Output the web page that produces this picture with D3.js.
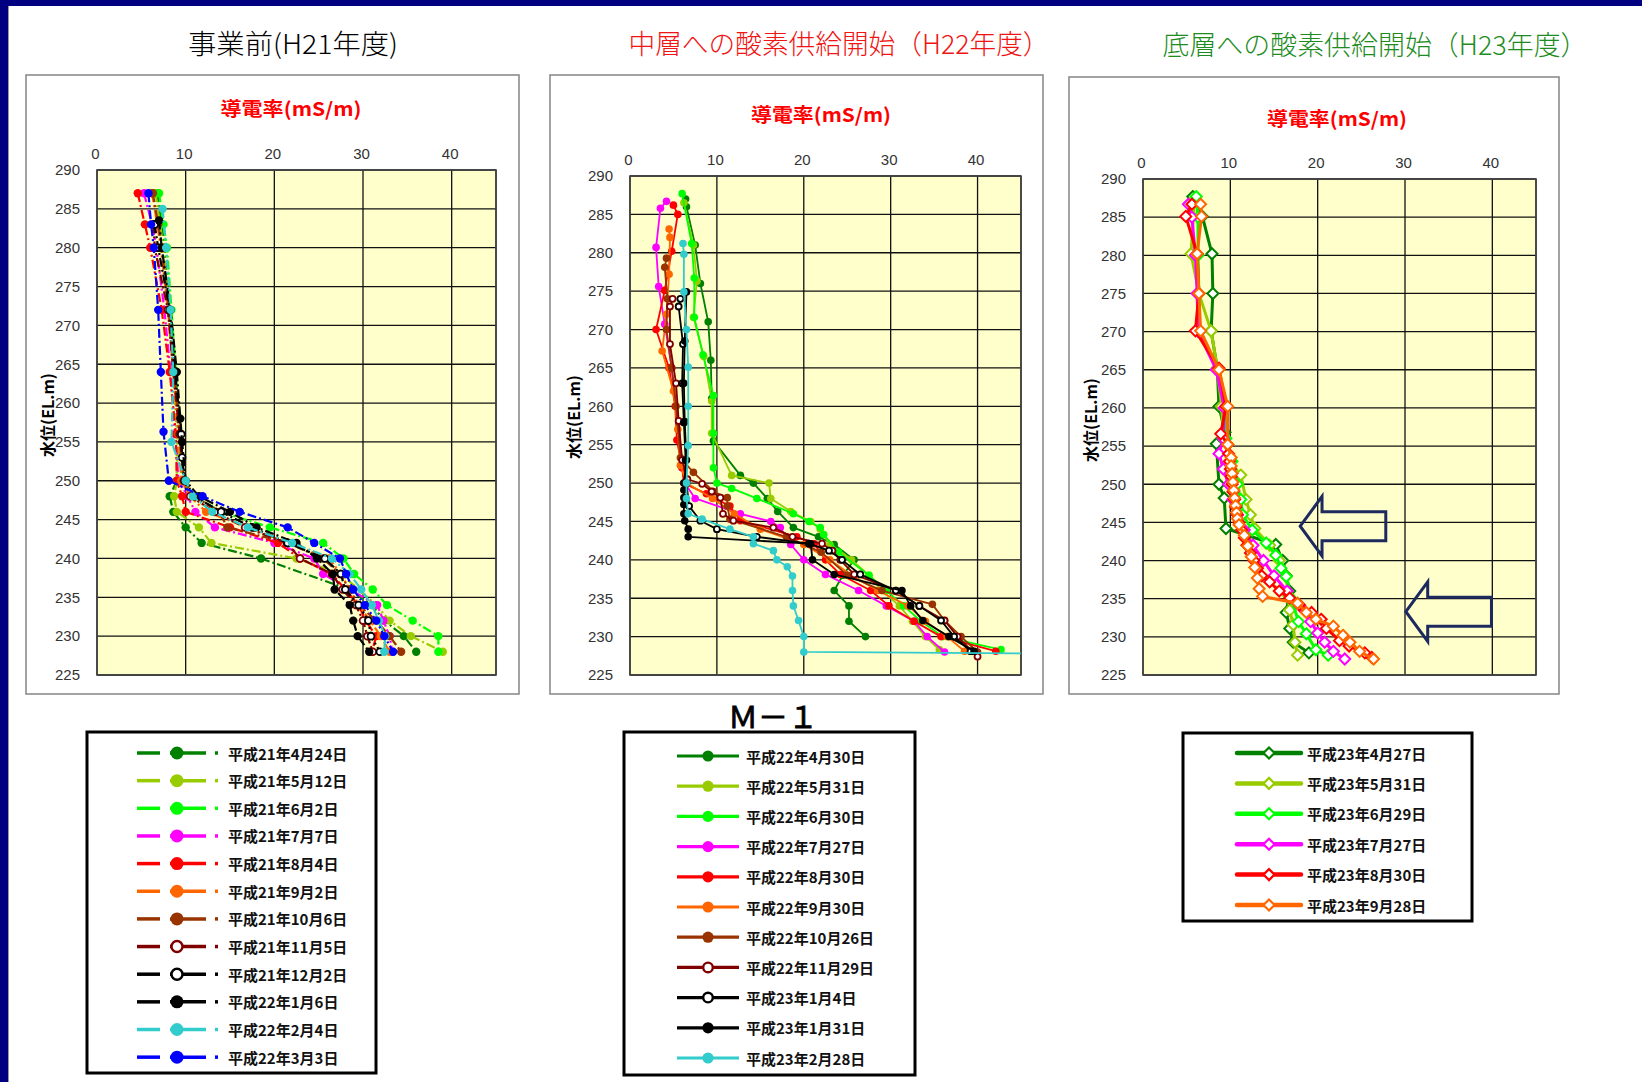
<!DOCTYPE html>
<html><head><meta charset="utf-8">
<script src="https://cdn.jsdelivr.net/npm/d3@7"></script>
<style>
html,body{margin:0;padding:0;background:#fff;}
svg{display:block;}
text{font-family:"Noto Sans CJK JP","Noto Sans",sans-serif;}
.num{font-family:"Liberation Sans",Arial,sans-serif;}
</style></head><body>
<svg id="c" width="1642" height="1082"></svg>
<script>
// ---------------- DATA ----------------
const xTicks = [0, 10, 20, 30, 40];
const yTicks = [225, 230, 235, 240, 245, 250, 255, 260, 265, 270, 275, 280, 285, 290];
const xDomain = [0, 45];
const yDomain = [225, 290];
const panelTitles = ["事業前(H21年度)", "中層への酸素供給開始（H22年度）", "底層への酸素供給開始（H23年度）"];
const chartTitle = "導電率(mS/m)";
const yAxisTitle = "水位(EL.m)";
const stationLabel = "Ｍ－１";

// Panel 1 (H21) : [elevation, conductivity]
const h21_0424 = [[287,6.8],[283,7.3],[280,7.6],[272,8.2],[264,8.8],[256,9.1],[250,9.0],[248,8.2],[246,8.6],[244,10.0],[242,11.8],[240,18.5],[236,28.5],[234,31.0],[232,32.4],[230,34.6],[228,36.0]];
const h21_0512 = [[287,6.6],[283,7.1],[280,7.5],[272,8.1],[264,8.6],[256,9.0],[250,9.0],[248,8.7],[246,9.0],[244,11.5],[242,12.9],[240,22.5],[238,27.5],[234,31.5],[232,33.0],[230,35.4],[228,39.0]];
const h21_0602 = [[287,7.0],[283,7.5],[280,7.9],[272,8.4],[264,8.9],[256,9.3],[250,9.6],[248,11.0],[246,14.0],[244,19.5],[242,25.5],[240,27.8],[238,29.0],[236,31.1],[234,32.7],[232,35.6],[230,38.5],[228,38.5]];
const h21_0707 = [[287,5.3],[283,6.2],[280,6.7],[272,7.6],[264,8.3],[256,8.8],[250,9.2],[248,10.2],[246,11.1],[244,13.3],[242,20.0],[240,24.5],[238,25.5],[236,28.5],[234,31.6],[232,32.3],[230,33.0],[228,33.3]];
const h21_0804 = [[287,4.6],[283,5.4],[280,6.0],[272,7.3],[264,8.2],[256,8.9],[250,9.0],[248,9.6],[246,10.0],[244,15.0],[242,20.4],[240,22.9],[238,26.5],[236,28.0],[234,29.5],[232,30.3],[230,31.5],[228,31.0]];
const h21_0902 = [[287,6.2],[283,6.8],[280,7.2],[272,8.0],[264,8.6],[256,9.2],[250,9.5],[248,10.5],[246,12.3],[244,17.0],[242,21.5],[240,26.2],[238,27.5],[236,28.5],[234,29.5],[232,30.8],[230,32.0],[228,33.0]];
const h21_1006 = [[287,6.3],[283,6.9],[280,7.3],[272,8.1],[264,8.7],[256,9.4],[250,9.8],[248,11.0],[246,13.8],[244,14.7],[242,21.5],[240,25.5],[238,27.4],[236,28.5],[234,29.5],[232,31.5],[230,33.0],[228,34.3]];
const h21_1105 = [[283,6.4],[280,6.5],[272,8.0],[264,8.6],[256,9.3],[250,9.8],[248,10.5],[246,13.3],[244,16.7],[242,21.4],[240,22.9],[238,26.5],[236,27.7],[234,29.2],[232,30.0],[230,30.5],[228,31.1]];
const h21_1202 = [[283,6.5],[280,6.9],[272,8.2],[264,8.8],[256,9.5],[253,9.6],[250,9.9],[248,11.0],[246,14.0],[244,17.5],[242,21.5],[240,25.7],[238,27.5],[236,28.0],[234,29.5],[232,30.6],[230,30.9],[228,31.9]];
const h22_0106 = [[283.5,7.0],[280,7.3],[272,8.3],[264,9.0],[258,9.4],[255,9.6],[250,10.0],[248,11.5],[246,15.0],[244,18.0],[242,22.5],[240,24.8],[238,26.6],[236,26.8],[234,28.5],[232,28.9],[230,29.4],[228,30.7]];
const h22_0204 = [[285,7.4],[280,7.8],[272,8.3],[264,8.6],[255,8.4],[250,10.0],[248,10.8],[246,13.0],[244,17.0],[242,22.0],[240,26.5],[238,28.5],[236,29.8],[234,31.0],[232,31.8],[230,32.5],[228,32.4]];
const h22_0303 = [[287,5.8],[283,6.1],[280,6.4],[272,6.9],[264,7.2],[256.3,7.5],[250,8.1],[248,11.9],[246,16.1],[244,21.5],[242,24.5],[240,27.4],[238,28.1],[236,28.9],[234,30.2],[232,31.5],[230,32.4],[228,33.4]];

// Panel 2 (H22)
const h22_0430 = [[287,6.4],[286,6.5],[281,7.5],[276,8.1],[271,9.0],[266,9.3],[261,9.4],[255.5,9.6],[251,12.7],[250,14.2],[248,15.8],[246.3,17.0],[244.2,18.8],[243,21.7],[242,23.5],[240,25.8],[238,24.5],[236,23.5],[234,25.2],[232,25.2],[230,27.1]];
const h22_0531 = [[286.5,6.2],[281,7.3],[276.3,7.7],[271.6,7.3],[266.5,8.5],[260.7,9.4],[256.5,9.4],[251,11.7],[250,16.0],[248,16.2],[246.3,18.5],[245,20.8],[244,21.9],[242,23.0],[240,25.5],[238,27.5],[236,29.0],[234,31.0],[232,32.5],[230,34.0],[228.3,35.6]];
const h22_0630 = [[287.7,6.0],[281.2,7.1],[276.7,7.4],[271.6,7.4],[266.7,8.4],[261.4,9.6],[256.5,9.6],[252,9.6],[250,10.0],[249.3,11.7],[248,14.6],[246,18.8],[245,20.6],[244.2,21.9],[243.3,22.3],[241,24.0],[238,27.5],[236,29.5],[234,31.5],[232,33.5],[230,36.0],[228.3,42.7]];
const h22_0727 = [[286.7,4.2],[285.8,3.5],[280.7,3.0],[275.6,3.3],[270.7,4.0],[265,4.8],[258,5.6],[252,6.0],[250,6.3],[248,7.5],[246,12.7],[245,16.2],[244.2,17.3],[242,18.5],[240,20.0],[238.1,22.5],[236,26.3],[234,29.5],[232,32.7],[230,34.2],[228,36.2]];
const h22_0830 = [[286.2,5.0],[285,5.5],[280.2,4.8],[275.1,4.0],[270,3.0],[265,4.5],[260,5.2],[255.6,5.4],[252,6.0],[250,6.2],[248.6,8.8],[247,11.5],[245.1,12.7],[243,19.2],[242.1,21.2],[240,22.5],[238.1,24.2],[236,27.7],[234,29.8],[232,32.7],[230,35.8],[228.1,42.1]];
const h22_0930 = [[283.1,4.5],[282,4.6],[277.2,4.5],[272,4.2],[267.2,3.7],[262,5.0],[257,5.5],[252.3,5.8],[250,6.5],[248,9.5],[246,12.0],[244,15.0],[242,20.0],[240,23.0],[238,25.5],[236,28.5],[234,32.0],[232,34.0],[230,36.5],[228.1,38.5]];
const h22_1026 = [[279.3,4.2],[278.1,4.0],[274,4.3],[270,4.2],[265,4.8],[260,5.3],[253.3,5.8],[251.4,7.3],[248.9,9.6],[248.1,11.2],[247,11.2],[245.3,11.5],[243,18.0],[241,22.0],[238,25.0],[236,29.0],[234.2,34.8],[232.1,36.2],[230,38.1],[228,40.0]];
const h22_1129 = [[274,4.9],[273,4.6],[268.1,4.6],[263,5.3],[258.1,5.6],[253,6.0],[250.5,6.6],[249.9,8.3],[248.9,9.4],[248.1,10.4],[246,10.7],[245.1,11.9],[244.2,16.5],[243,18.7],[242.1,22.1],[241.2,23.3],[240,24.2],[238.1,25.8],[236,30.6],[234,33.3],[232.1,36.2],[230,37.7],[227.4,40.0]];
const h23_0104 = [[274,5.8],[273,5.6],[268.1,6.1],[263,6.0],[257.9,6.2],[253,6.4],[250,6.5],[247,6.8],[245.1,8.1],[244,10.0],[243,14.6],[242.1,20.6],[241.2,22.9],[240,24.4],[238.1,26.5],[236,30.6],[234,33.3],[232.1,35.8],[230,37.3],[228.1,39.2]];
const h23_0131 = [[274.9,6.5],[268.5,6.3],[263,6.2],[258,6.3],[253,6.5],[250,6.2],[249.1,6.2],[248.1,6.2],[247.2,6.2],[246,6.2],[245.1,6.3],[244,6.7],[243,6.7],[242.1,20.8],[240,21.0],[238.1,23.5],[236,31.3],[234,32.3],[232.1,33.7],[230,36.7],[228.1,39.6]];
const h23_0228 = [[281.2,6.1],[279.8,6.2],[274.9,6.2],[270,6.5],[265.1,6.7],[260,6.7],[254.9,6.7],[250,6.5],[248,6.5],[246,6.7],[245.3,8.3],[244,11.5],[243,14.2],[242.1,14.2],[241.2,16.5],[240,16.9],[239.1,18.1],[237.9,18.7],[236,18.7],[234,18.8],[232.1,19.4],[230,20.0],[228,20.0],[227.8,48.0]];

// Panel 3 (H23)
const h23_0427 = [[287.7,5.7],[285.1,6.8],[280.2,7.9],[275,8.0],[270.1,7.8],[265.2,8.5],[260.2,8.7],[256.8,9.4],[255.3,8.4],[250,8.7],[248.2,9.3],[244.2,9.5],[242.1,15.2],[240,16.0],[238,16.4],[236,16.8],[233.2,16.4],[231.1,16.8],[229.3,17.2],[227.9,19.0]];
const h23_0531 = [[287.4,5.9],[280.2,5.5],[275,6.4],[270.1,7.8],[265.2,8.5],[260.2,9.0],[256,9.2],[253,10.0],[251.2,11.2],[248,11.8],[246,12.3],[244.2,12.8],[242,14.5],[240,15.6],[237.9,16.4],[235.5,16.6],[233.5,16.8],[231.6,17.2],[229.3,17.4],[227.6,17.7]];
const h23_0629 = [[287.7,6.1],[285,6.3],[280,6.3],[275,6.4],[270,6.5],[265,8.5],[260,9.4],[256,9.5],[253,10.2],[250,10.8],[248,11.2],[246,11.4],[244,12.5],[242.3,14.1],[240.7,15.2],[239,15.8],[237.9,16.4],[235,17.0],[232,17.8],[230.4,18.7],[228.3,19.8],[227.6,21.2]];
const h23_0727 = [[286.7,5.2],[285,5.6],[280,6.0],[275,6.2],[270,6.3],[265,8.4],[260,9.3],[256,9.2],[254,8.7],[252,9.2],[250,9.8],[248,10.3],[246,10.8],[244,11.6],[242,12.6],[240,13.8],[238,15.0],[236,16.5],[234,18.0],[232,19.2],[230.5,20.0],[229.3,20.8],[228.1,21.8],[227.1,23.1]];
const h23_0830 = [[286.7,5.6],[285.1,4.9],[280.2,6.2],[275,6.4],[270.1,6.0],[265.2,8.7],[260.2,9.5],[256.6,8.9],[255.2,9.7],[254,9.8],[253,9.9],[252,10.0],[251,10.1],[250,10.2],[249,10.3],[248,10.5],[247,10.6],[246,10.8],[245,11.0],[244,11.3],[243,11.6],[242,11.9],[241,12.3],[240,12.7],[239,13.1],[238,13.6],[237.2,14.5],[236,15.6],[235.1,16.8],[234.2,17.9],[233.2,19.3],[232.3,20.4],[231.1,21.0],[229.5,22.5],[228.8,23.6],[227.9,25.4],[227.3,26.2]];
const h23_0928 = [[286.7,6.6],[285.1,6.7],[280.2,6.2],[275,6.4],[270.1,6.6],[265,8.7],[260.2,9.7],[255.2,9.7],[253.5,10.1],[252.4,10.1],[251.4,10.2],[250.3,10.3],[249.2,10.4],[248.2,10.5],[247.2,10.6],[246.3,10.7],[245.5,10.8],[244.7,11.0],[243.3,11.6],[241.9,12.0],[240.5,12.4],[239.1,12.8],[237.7,13.1],[236.3,13.3],[235.3,13.7],[234.4,17.7],[233.2,18.7],[232.3,19.8],[231.4,21.8],[230.2,22.9],[229.3,23.7],[228.1,24.8],[227.1,26.4]];

const p1Series = [h21_0424,h21_0512,h21_0602,h21_0707,h21_0804,h21_0902,h21_1006,h21_1105,h21_1202,h22_0106,h22_0204,h22_0303];
const p2Series = [h22_0430,h22_0531,h22_0630,h22_0727,h22_0830,h22_0930,h22_1026,h22_1129,h23_0104,h23_0131,h23_0228];
const p3Series = [h23_0427,h23_0531,h23_0629,h23_0727,h23_0830,h23_0928];

const p1Labels = ["平成21年4月24日","平成21年5月12日","平成21年6月2日","平成21年7月7日","平成21年8月4日","平成21年9月2日","平成21年10月6日","平成21年11月5日","平成21年12月2日","平成22年1月6日","平成22年2月4日","平成22年3月3日"];
const p2Labels = ["平成22年4月30日","平成22年5月31日","平成22年6月30日","平成22年7月27日","平成22年8月30日","平成22年9月30日","平成22年10月26日","平成22年11月29日","平成23年1月4日","平成23年1月31日","平成23年2月28日"];
const p3Labels = ["平成23年4月27日","平成23年5月31日","平成23年6月29日","平成23年7月27日","平成23年8月30日","平成23年9月28日"];

// Annotation arrows in panel 3 (data units)
const arrowTipX = [18.0, 30.1];
const arrowBaseX = [20.5, 32.6];
const arrowTailX = [27.8, 39.9];
const arrowY = [244.5, 233.3];

// ---------------- STYLE / LAYOUT ----------------
const p1Colors = ["#008000","#99CC00","#00FF00","#FF00FF","#FF0000","#FF6600","#993300","#800000","#000000","#000000","#33CCCC","#0000FF"];
const p1Hollow = [false,false,false,false,false,false,false,true,true,false,false,false];
const p2Colors = ["#008000","#99CC00","#00FF00","#FF00FF","#FF0000","#FF6600","#993300","#800000","#000000","#000000","#33CCCC"];
const p2Hollow = [false,false,false,false,false,false,false,true,true,false,false];
const p3Colors = ["#008000","#99CC00","#00FF00","#FF00FF","#FF0000","#FF6600"];

const geo = [
  {box:[26,75,519,694], plot:[97,170,496,675], title:[293,42,210,"#000000"], ct:[291,107,141], yt:[47,415]},
  {box:[550,75,1043,694], plot:[630,176,1021,675], title:[839,42,421,"#F01414"], ct:[821,113,140], yt:[573,417]},
  {box:[1069,77,1559,694], plot:[1143,179,1536,675], title:[1375,43,425,"#1E8C1E"], ct:[1337,117,140], yt:[1090,420]}
];

const svg = d3.select("#c");
svg.append("rect").attr("width",1642).attr("height",1082).attr("fill","#fff");
svg.append("rect").attr("x",0).attr("y",0).attr("width",1642).attr("height",6).attr("fill","#000080");
svg.append("rect").attr("x",0).attr("y",0).attr("width",8).attr("height",1082).attr("fill","#000080");
svg.append("line").attr("x1",8.5).attr("x2",8.5).attr("y1",6).attr("y2",1082).attr("stroke","#999").attr("stroke-width",1);

const scales = [];
geo.forEach((g, i) => {
  const G = svg.append("g");
  G.append("rect").attr("x",g.box[0]).attr("y",g.box[1]).attr("width",g.box[2]-g.box[0]).attr("height",g.box[3]-g.box[1])
    .attr("fill","#fff").attr("stroke","#8c8c8c").attr("stroke-width",1.6);
  G.append("text").attr("x",g.title[0]).attr("y",g.title[1]).attr("text-anchor","middle").attr("dominant-baseline","central")
    .attr("font-size",27).attr("font-weight",300).attr("fill",g.title[3]).attr("textLength",g.title[2]).attr("lengthAdjust","spacingAndGlyphs").text(panelTitles[i]);
  G.append("text").attr("x",g.ct[0]).attr("y",g.ct[1]).attr("text-anchor","middle").attr("dominant-baseline","central")
    .attr("font-size",19).attr("font-weight","bold").attr("fill","#FF0000").attr("textLength",g.ct[2]).attr("lengthAdjust","spacingAndGlyphs").text(chartTitle);
  const [L,T,R,B] = g.plot;
  const x = d3.scaleLinear().domain(xDomain).range([L,R]);
  const y = d3.scaleLinear().domain(yDomain).range([B,T]);
  scales.push({x,y});
  G.append("rect").attr("x",L).attr("y",T).attr("width",R-L).attr("height",B-T).attr("fill","#FFFFCC");
  G.selectAll(".vg").data(xTicks.concat([45])).enter().append("line")
    .attr("x1",d=>x(d)).attr("x2",d=>x(d)).attr("y1",T).attr("y2",B).attr("stroke","#111").attr("stroke-width",1.3);
  G.selectAll(".hg").data(yTicks).enter().append("line")
    .attr("y1",d=>y(d)).attr("y2",d=>y(d)).attr("x1",L).attr("x2",R).attr("stroke","#111").attr("stroke-width",1.3);
  G.append("rect").attr("x",L).attr("y",T).attr("width",R-L).attr("height",B-T).attr("fill","none").attr("stroke","#444").attr("stroke-width",1.6);
  const ax = G.append("g").attr("transform",`translate(-2,${T-11})`).call(d3.axisTop(x).tickValues(xTicks).tickSize(0).tickPadding(0));
  ax.select(".domain").remove();
  ax.selectAll("text").attr("class","num").attr("font-size",15).attr("fill","#333");
  const ay = G.append("g").attr("transform",`translate(${L-17},0)`).call(d3.axisLeft(y).tickValues(yTicks).tickSize(0).tickPadding(0));
  ay.select(".domain").remove();
  ay.selectAll("text").attr("class","num").attr("font-size",15).attr("fill","#333");
  G.append("text").attr("transform",`translate(${g.yt[0]},${g.yt[1]}) rotate(-90)`).attr("text-anchor","middle").attr("dominant-baseline","central")
    .attr("font-size",16).attr("font-weight","bold").attr("fill","#000").text(yAxisTitle);
  svg.append("clipPath").attr("id","clip"+i).append("rect").attr("x",L).attr("y",T).attr("width",R-L).attr("height",B-T);
});

function drawSeries(pi, seriesList, colors, opts) {
  const {x,y} = scales[pi];
  const G = svg.append("g").attr("clip-path",`url(#clip${pi})`);
  const line = d3.line().x(d=>x(d[1])).y(d=>y(d[0]));
  seriesList.forEach((s, k) => {
    const c = colors[k];
    const sg = G.append("g");
    sg.append("path").attr("d",line(s)).attr("fill","none").attr("stroke",c).attr("stroke-width",opts.lw)
      .attr("stroke-dasharray",opts.dash || null).attr("stroke-linejoin","round");
    if (opts.diamond) {
      sg.selectAll("path.m").data(s).enter().append("path").attr("class","m")
        .attr("d",d=>{const cx=x(d[1]),cy=y(d[0]),h=opts.ms;return `M${cx},${cy-h}L${cx+h},${cy}L${cx},${cy+h}L${cx-h},${cy}Z`;})
        .attr("fill","#fff").attr("stroke",c).attr("stroke-width",2);
    } else {
      const hollow = opts.hollow[k];
      sg.selectAll("circle").data(s).enter().append("circle")
        .attr("cx",d=>x(d[1])).attr("cy",d=>y(d[0])).attr("r",hollow?opts.ms-0.8:opts.ms)
        .attr("fill",hollow?"#fff":c).attr("stroke",c).attr("stroke-width",hollow?1.8:0);
    }
  });
}
drawSeries(0, p1Series, p1Colors, {lw:2.2, dash:"9,3,2,3", ms:4.2, hollow:p1Hollow});
drawSeries(1, p2Series, p2Colors, {lw:1.8, ms:3.8, hollow:p2Hollow});
drawSeries(2, p3Series, p3Colors, {lw:3, ms:5.5, diamond:true});

{
  const {x,y} = scales[2];
  arrowTipX.forEach((tx,k)=>{
    const yc = arrowY[k];
    const pts = [[tx,yc],[arrowBaseX[k],yc+3.9],[arrowBaseX[k],yc+1.9],[arrowTailX[k],yc+1.9],[arrowTailX[k],yc-1.9],[arrowBaseX[k],yc-1.9],[arrowBaseX[k],yc-3.9]];
    svg.append("path").attr("d","M"+pts.map(p=>`${x(p[0])},${y(p[1])}`).join("L")+"Z")
      .attr("fill","none").attr("stroke","#1C2A5E").attr("stroke-width",3).attr("stroke-linejoin","miter");
  });
}

svg.append("text").attr("x",773).attr("y",715).attr("text-anchor","middle").attr("dominant-baseline","central")
  .attr("font-size",30).attr("fill","#000").attr("stroke","#000").attr("stroke-width",0.8).text(stationLabel);

function legendBox(b){
  svg.append("rect").attr("x",b[0]).attr("y",b[1]).attr("width",b[2]-b[0]).attr("height",b[3]-b[1])
    .attr("fill","#fff").attr("stroke","#000").attr("stroke-width",3);
}
legendBox([87,732,376,1073]);
legendBox([624,732,915,1075]);
legendBox([1183,733,1472,921]);

const L1 = svg.append("g");
p1Labels.forEach((lab,k)=>{
  const yy = 753 + k*27.65, c = p1Colors[k];
  [[137,160],[170,206],[215,218]].forEach(sg=>{
    L1.append("line").attr("x1",sg[0]).attr("x2",sg[1]).attr("y1",yy).attr("y2",yy).attr("stroke",c).attr("stroke-width",3.5);
  });
  L1.append("circle").attr("cx",177).attr("cy",yy).attr("r",p1Hollow[k]?5.5:6.5)
    .attr("fill",p1Hollow[k]?"#fff":c).attr("stroke",c).attr("stroke-width",p1Hollow[k]?2.4:0);
  L1.append("text").attr("x",228).attr("y",yy).attr("dominant-baseline","central").attr("font-size",15).attr("font-weight","bold").attr("fill","#111").text(lab);
});
const L2 = svg.append("g");
p2Labels.forEach((lab,k)=>{
  const yy = 756 + k*30.2, c = p2Colors[k];
  L2.append("line").attr("x1",677).attr("x2",739).attr("y1",yy).attr("y2",yy).attr("stroke",c).attr("stroke-width",3.2);
  L2.append("circle").attr("cx",708).attr("cy",yy).attr("r",p2Hollow[k]?4.8:5.6)
    .attr("fill",p2Hollow[k]?"#fff":c).attr("stroke",c).attr("stroke-width",p2Hollow[k]?2.4:0);
  L2.append("text").attr("x",746).attr("y",yy).attr("dominant-baseline","central").attr("font-size",15).attr("font-weight","bold").attr("fill","#111").text(lab);
});
const L3 = svg.append("g");
p3Labels.forEach((lab,k)=>{
  const yy = 753 + k*30.4, c = p3Colors[k];
  L3.append("line").attr("x1",1237).attr("x2",1301).attr("y1",yy).attr("y2",yy).attr("stroke",c).attr("stroke-width",4.5).attr("stroke-linecap","round");
  L3.append("path").attr("d",`M1269,${yy-5.5}L1274.5,${yy}L1269,${yy+5.5}L1263.5,${yy}Z`).attr("fill","#fff").attr("stroke",c).attr("stroke-width",2.2);
  L3.append("text").attr("x",1307).attr("y",yy).attr("dominant-baseline","central").attr("font-size",15).attr("font-weight","bold").attr("fill","#111").text(lab);
});
</script></body></html>
